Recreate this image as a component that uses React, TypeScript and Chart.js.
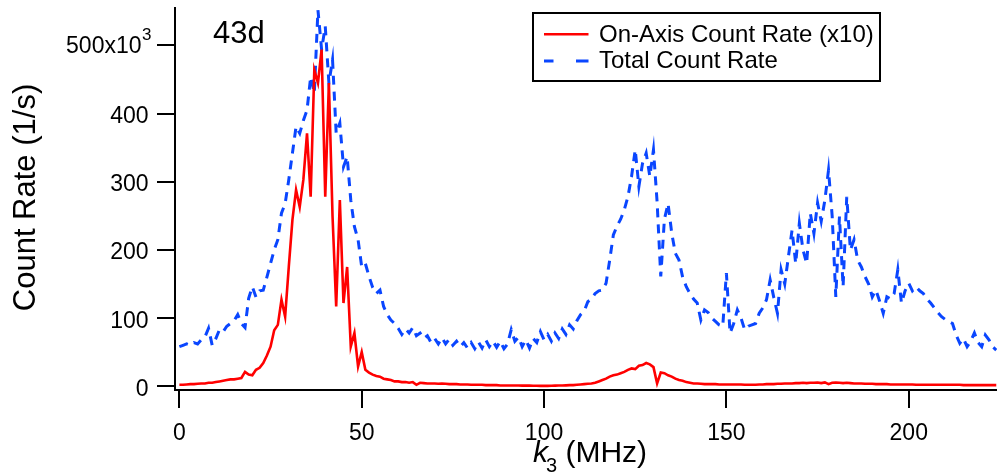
import React, { useEffect, useRef } from "react";
import { Chart, registerables } from "chart.js";

Chart.register(...registerables);

// ---- data (count rates in units of 10^3 1/s, sampled every 1 MHz from 0 MHz) ----
const FREQ_STEP_MHZ = 1;

const onAxisRate = [
  2, 2, 2.5, 3, 3, 3.5, 4, 4, 5, 5,
  6, 7, 8, 9, 10, 10, 11, 12, 21, 17,
  16, 24, 27, 34, 45, 58, 82, 90, 127, 102,
  175, 244, 288, 263, 303, 371, 278, 464, 445, 494,
  278, 445, 249, 117, 273, 122, 175, 58, 78, 29,
  50, 24, 20, 17, 15, 14, 11, 10, 9, 7,
  7, 6, 6, 5, 6, 2, 5, 4.5, 4, 4,
  4, 3.5, 4, 3.5, 3, 3, 3, 2.5, 2.5, 2.5,
  2, 2, 2, 2, 1.5, 1.5, 1.5, 1.5, 1, 1,
  1, 1, 1, 1, 0.8, 0.8, 0.8, 0.6, 0.6, 0.5,
  0.5, 0.5, 0.6, 0.8, 1, 1, 1.2, 1.5, 1.5, 2,
  2.5, 3, 3.5, 4, 5, 7, 9, 11, 14, 16,
  17, 19, 21, 24, 26, 25, 30, 31, 34, 32,
  28, 4, 20, 19, 16, 14, 11, 9, 8, 6,
  5, 4, 4, 3.5, 3, 3, 3, 3, 2.5, 2.5,
  2.5, 2.5, 2.5, 2.5, 2.5, 2, 2, 2, 2, 2.5,
  2.5, 3, 3, 3, 3.5, 3.5, 4, 4, 4, 4.5,
  4.5, 5, 4.5, 5, 5, 5.5, 4.5, 5.5, 3, 5,
  5.5, 5, 4.5, 5, 4.5, 4, 4, 4, 3.5, 3.5,
  3.5, 3, 3, 3, 3, 2.5, 2.5, 2.5, 2.5, 2.5,
  2.5, 2.5, 2, 2, 2, 2, 2, 2, 2, 2,
  2, 2, 2, 2, 2, 1.5, 1.5, 1.5, 1.5, 1.5,
  1.5, 1.5, 1.5, 1.5, 1.5,
];

const totalRate = [
  58, 60, 62, 60, 64, 62, 68, 72, 85, 60,
  70, 83, 80, 88, 92, 96, 105, 92, 86, 129,
  146, 131, 140, 141, 160, 180, 200, 215, 254, 268,
  303, 342, 381, 371, 390, 405, 454, 430, 552, 494,
  528, 445, 479, 371, 386, 322, 337, 273, 234, 215,
  175, 180, 161, 145, 136, 141, 117, 105, 97, 92,
  85, 76, 84, 78, 86, 74, 78, 70, 74, 64,
  70, 62, 71, 62, 69, 60, 66, 58, 64, 56,
  64, 55, 65, 56, 68, 58, 66, 57, 66, 55,
  62, 83, 66, 72, 58, 68, 56, 70, 64, 80,
  68, 76, 66, 78, 70, 84, 76, 90, 84, 96,
  105, 110, 124, 128, 136, 140, 141, 151, 185, 222,
  235, 245, 259, 278, 308, 347, 293, 327, 342, 308,
  347, 270, 161, 245, 268, 225, 195, 185, 160, 146,
  136, 128, 122, 97, 112, 108, 100, 95, 90, 88,
  166, 78, 92, 112, 100, 83, 88, 90, 92, 107,
  115, 127, 156, 130, 107, 171, 150, 190, 229, 180,
  239, 200, 180, 254, 224, 269, 242, 273, 317, 250,
  131, 249, 146, 278, 200, 215, 185, 175, 161, 150,
  131, 141, 125, 107, 131, 128, 136, 171, 122, 140,
  151, 140, 146, 140, 136, 128, 122, 115, 108, 102,
  98, 95, 92, 75, 63, 70, 58, 66, 78, 64,
  58, 75, 68, 58, 53,
];

const xTicks = [0, 50, 100, 150, 200];
const yTicks = [0, 100, 200, 300, 400, 500];
const seriesLabels = ["On-Axis Count Rate (x10)", "Total Count Rate"];
const sampleLabel = "43d";
const yTitle = "Count Rate (1/s)";

const FONT = "'Liberation Sans', Arial, Helvetica, sans-serif";
const RED = "#ff0000";
const BLUE = "#0a46ff";
const BLUE_DASH = [9, 7];

const annotate = {
  id: "annotate",
  afterDraw(chart: any) {
    const ctx: CanvasRenderingContext2D = chart.ctx;
    const xs = chart.scales.x;
    const ys = chart.scales.y;
    ctx.save();
    ctx.fillStyle = "#000";

    // y tick labels
    ctx.textBaseline = "alphabetic";
    yTicks.forEach((v) => {
      const py = ys.getPixelForValue(v);
      if (v === 500) {
        const xr = 141.5;
        ctx.textAlign = "right";
        ctx.font = `23px ${FONT}`;
        ctx.fillText(`${v}x10`, xr, py + 8);
        ctx.textAlign = "left";
        ctx.font = `17px ${FONT}`;
        ctx.fillText("3", xr + 0.5, py - 5);
      } else {
        ctx.textAlign = "right";
        ctx.font = `23px ${FONT}`;
        ctx.fillText(String(v), 148.5, py + 9.5);
      }
    });

    // x tick labels
    ctx.font = `23px ${FONT}`;
    ctx.textAlign = "center";
    xTicks.forEach((v) => {
      ctx.fillText(String(v), xs.getPixelForValue(v), 440);
    });

    // x title: k_3 (MHz)
    ctx.textAlign = "left";
    let x = 533;
    ctx.font = `italic 30px ${FONT}`;
    ctx.fillText("k", x, 461.7);
    x += ctx.measureText("k").width - 2;
    ctx.font = `20px ${FONT}`;
    ctx.fillText("3", x, 472);
    x += ctx.measureText("3").width;
    ctx.font = `30px ${FONT}`;
    ctx.fillText(" (MHz)", x, 461.7);

    // y title
    ctx.save();
    ctx.translate(35, 197.5);
    ctx.rotate(-Math.PI / 2);
    ctx.font = `31px ${FONT}`;
    ctx.textAlign = "center";
    ctx.fillText(yTitle, 0, 0);
    ctx.restore();

    // sample label
    ctx.font = `31px ${FONT}`;
    ctx.textAlign = "left";
    ctx.fillText(sampleLabel, 213, 42.7);

    // legend box
    ctx.fillStyle = "#fff";
    ctx.fillRect(533, 13, 347, 68);
    ctx.strokeStyle = "#000";
    ctx.lineWidth = 2;
    ctx.strokeRect(533, 13, 347, 68);
    ctx.lineWidth = 2.5;
    ctx.strokeStyle = RED;
    ctx.beginPath();
    ctx.moveTo(544, 34.3);
    ctx.lineTo(588.5, 34.3);
    ctx.stroke();
    ctx.strokeStyle = BLUE;
    ctx.lineWidth = 3;
    ctx.beginPath();
    ctx.moveTo(544, 61);
    ctx.lineTo(553.5, 61);
    ctx.moveTo(576, 61);
    ctx.lineTo(588.5, 61);
    ctx.stroke();
    ctx.fillStyle = "#000";
    ctx.font = `24px ${FONT}`;
    ctx.textAlign = "left";
    ctx.fillText(seriesLabels[0], 599, 41.7);
    ctx.fillText(seriesLabels[1], 599, 68.3);
    ctx.restore();
  },
};

export default function App() {
  const canvasRef = useRef<HTMLCanvasElement | null>(null);

  useEffect(() => {
    const canvas = canvasRef.current;
    if (!canvas) return;
    const chart = new Chart(canvas, {
      type: "line",
      data: {
        datasets: [
          {
            label: seriesLabels[0],
            data: onAxisRate.map((v, i) => ({ x: i * FREQ_STEP_MHZ, y: v })),
            borderColor: RED,
            borderWidth: 2.6,
            pointRadius: 0,
            tension: 0,
            fill: false,
          },
          {
            label: seriesLabels[1],
            data: totalRate.map((v, i) => ({ x: i * FREQ_STEP_MHZ, y: v })),
            borderColor: BLUE,
            borderWidth: 3,
            borderDash: BLUE_DASH,
            pointRadius: 0,
            tension: 0,
            fill: false,
          },
        ],
      },
      options: {
        responsive: false,
        animation: false,
        devicePixelRatio: 1,
        layout: { padding: { top: 8, left: 0, right: 0, bottom: 0 } },
        plugins: {
          legend: { display: false },
          tooltip: { enabled: false },
        },
        scales: {
          x: {
            type: "linear",
            min: -1.2,
            max: 224.2,
            afterBuildTicks: (s: any) => {
              s.ticks = xTicks.map((v) => ({ value: v }));
            },
            afterFit: (s: any) => {
              s.height = 85;
            },
            ticks: { display: false },
            grid: {
              drawOnChartArea: false,
              drawTicks: true,
              tickLength: 18,
              color: "#000",
              lineWidth: 2,
            },
            border: { display: true, color: "#000", width: 2 },
          },
          y: {
            type: "linear",
            min: -5.6,
            max: 555,
            afterBuildTicks: (s: any) => {
              s.ticks = yTicks.map((v) => ({ value: v }));
            },
            afterFit: (s: any) => {
              s.width = 175;
            },
            ticks: { display: false },
            grid: {
              drawOnChartArea: false,
              drawTicks: true,
              tickLength: 18,
              color: "#000",
              lineWidth: 2,
            },
            border: { display: true, color: "#000", width: 2 },
          },
        },
      },
      plugins: [annotate],
    } as any);
    return () => chart.destroy();
  }, []);

  return (
    <div style={{ position: "absolute", left: 0, top: 0, width: 997, height: 475, background: "#fff" }}>
      <canvas ref={canvasRef} width={997} height={475} />
    </div>
  );
}
